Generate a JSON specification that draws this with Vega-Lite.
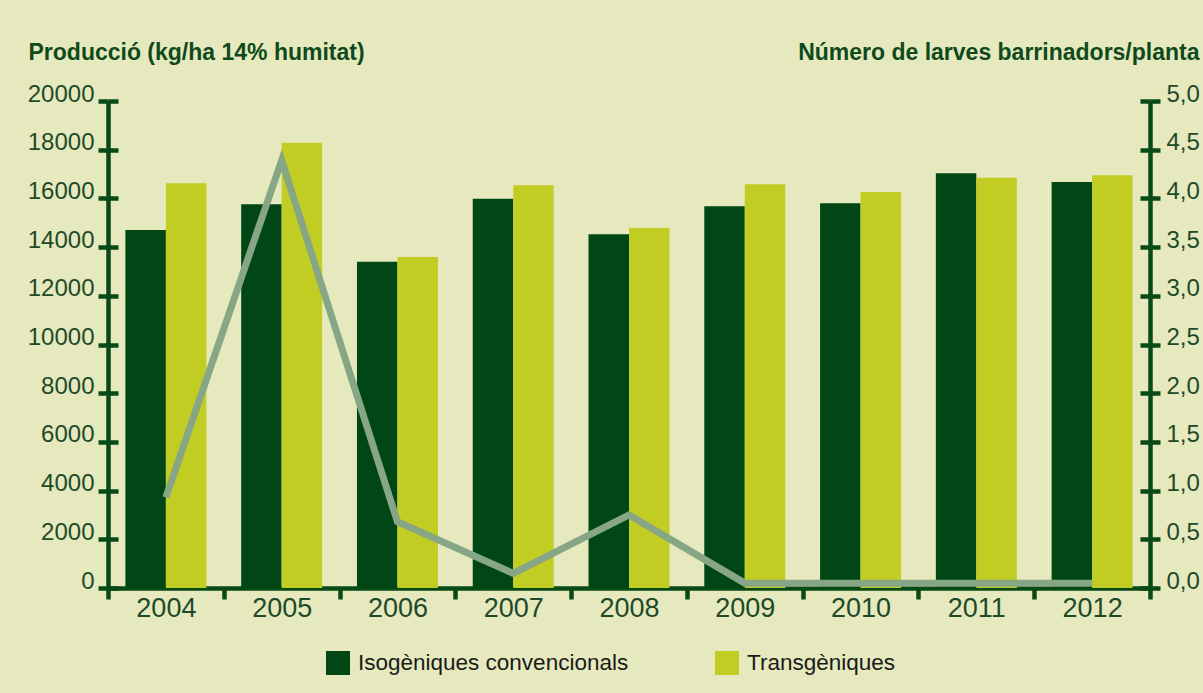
{
  "$schema": "https://vega.github.io/schema/vega-lite/v6.json",
  "width": 1042,
  "height": 487,
  "autosize": {"type": "none"},
  "padding": {"left": 108, "top": 101, "right": 53, "bottom": 105},
  "background": "#e6e9bd",
  "config": {
    "view": {"stroke": null},
    "font": "Liberation Sans"
  },
  "datasets": {
    "prod": [
      {"year": "2004", "tipus": "Isogèniques convencionals", "kg": 14700},
      {"year": "2004", "tipus": "Transgèniques", "kg": 16620},
      {"year": "2005", "tipus": "Isogèniques convencionals", "kg": 15760},
      {"year": "2005", "tipus": "Transgèniques", "kg": 18290},
      {"year": "2006", "tipus": "Isogèniques convencionals", "kg": 13400},
      {"year": "2006", "tipus": "Transgèniques", "kg": 13590},
      {"year": "2007", "tipus": "Isogèniques convencionals", "kg": 15990},
      {"year": "2007", "tipus": "Transgèniques", "kg": 16540},
      {"year": "2008", "tipus": "Isogèniques convencionals", "kg": 14530},
      {"year": "2008", "tipus": "Transgèniques", "kg": 14780},
      {"year": "2009", "tipus": "Isogèniques convencionals", "kg": 15680},
      {"year": "2009", "tipus": "Transgèniques", "kg": 16580},
      {"year": "2010", "tipus": "Isogèniques convencionals", "kg": 15800},
      {"year": "2010", "tipus": "Transgèniques", "kg": 16260},
      {"year": "2011", "tipus": "Isogèniques convencionals", "kg": 17030},
      {"year": "2011", "tipus": "Transgèniques", "kg": 16850},
      {"year": "2012", "tipus": "Isogèniques convencionals", "kg": 16670},
      {"year": "2012", "tipus": "Transgèniques", "kg": 16950}
    ],
    "larves": [
      {"year": "2004", "larves": 0.93},
      {"year": "2005", "larves": 4.39},
      {"year": "2006", "larves": 0.68},
      {"year": "2007", "larves": 0.15},
      {"year": "2008", "larves": 0.75},
      {"year": "2009", "larves": 0.05},
      {"year": "2010", "larves": 0.05},
      {"year": "2011", "larves": 0.05},
      {"year": "2012", "larves": 0.05}
    ]
  },
  "layer": [
    {
      "data": {"name": "prod"},
      "mark": {"type": "bar"},
      "encoding": {
        "x": {
          "field": "year", "type": "nominal",
          "scale": {"paddingInner": 0, "paddingOuter": 0},
          "axis": {
            "title": null,
            "labelAngle": 0,
            "labelFont": "Liberation Sans",
            "labelFontSize": 27,
            "labelColor": "#1e4a2a",
            "labelBaseline": "alphabetic",
            "labelPadding": 17,
            "tickBand": "extent",
            "tickSize": 11,
            "tickWidth": 4.5,
            "tickColor": "#074a16",
            "domainColor": "#074a16",
            "domainWidth": 4.5,
            "grid": false
          }
        },
        "xOffset": {
          "field": "tipus", "type": "nominal",
          "scale": {"paddingInner": 0, "paddingOuter": 0.43}
        },
        "y": {
          "field": "kg", "type": "quantitative",
          "scale": {"domain": [0, 20000], "nice": false},
          "axis": {
            "orient": "left",
            "values": [0, 2000, 4000, 6000, 8000, 10000, 12000, 14000, 16000, 18000, 20000],
            "format": "d",
            "title": "Producció (kg/ha 14% humitat)",
            "titleAngle": 0,
            "titleAlign": "left",
            "titleBaseline": "alphabetic",
            "titleX": -80,
            "titleY": -42,
            "titleFont": "Liberation Sans",
            "titleFontSize": 23,
            "titleFontWeight": "bold",
            "titleColor": "#0f4a1c",
            "labelFont": "Liberation Sans",
            "labelFontSize": 24,
            "labelColor": "#1e4a2a",
            "labelBaseline": "alphabetic",
            "labelPadding": 4,
            "tickSize": 10,
            "tickWidth": 4.5,
            "tickColor": "#074a16",
            "domainColor": "#074a16",
            "domainWidth": 4.5,
            "grid": true,
            "gridColor": "#074a16",
            "gridWidth": 4.5,
            "gridDash": [10, 3000],
            "gridOpacity": 1
          }
        },
        "color": {
          "field": "tipus", "type": "nominal",
          "scale": {
            "domain": ["Isogèniques convencionals", "Transgèniques"],
            "range": ["#004715", "#c2cd23"]
          },
          "legend": {
            "title": null,
            "orient": "none",
            "legendX": 218,
            "legendY": 550,
            "direction": "horizontal",
            "symbolType": "square",
            "symbolSize": 576,
            "symbolStrokeWidth": 0,
            "symbolOpacity": 1,
            "labelFont": "Liberation Sans",
            "labelFontSize": 22.5,
            "labelLimit": 500,
            "labelColor": "#1a1a1a",
            "labelOffset": 8,
            "columnPadding": 86
          }
        }
      }
    },
    {
      "data": {"name": "larves"},
      "mark": {"type": "line", "color": "#87a686", "strokeWidth": 7, "strokeJoin": "miter", "strokeCap": "butt"},
      "encoding": {
        "x": {"field": "year", "type": "nominal"},
        "y": {
          "field": "larves", "type": "quantitative",
          "scale": {"domain": [0, 5], "nice": false},
          "axis": {
            "orient": "right",
            "values": [0, 0.5, 1, 1.5, 2, 2.5, 3, 3.5, 4, 4.5, 5],
            "labelExpr": "replace(format(datum.value, '.1f'), '.', ',')",
            "title": "Número de larves barrinadors/planta",
            "titleAngle": 0,
            "titleAlign": "right",
            "titleBaseline": "alphabetic",
            "titleX": 49,
            "titleY": -42,
            "titleFont": "Liberation Sans",
            "titleFontSize": 23,
            "titleFontWeight": "bold",
            "titleColor": "#0f4a1c",
            "labelFont": "Liberation Sans",
            "labelFontSize": 24,
            "labelColor": "#1e4a2a",
            "labelBaseline": "alphabetic",
            "labelPadding": 6,
            "tickSize": 10,
            "tickWidth": 4.5,
            "tickColor": "#074a16",
            "domainColor": "#074a16",
            "domainWidth": 4.5,
            "grid": true,
            "gridColor": "#074a16",
            "gridWidth": 4.5,
            "gridDash": [10, 3000],
            "gridOpacity": 1
          }
        }
      }
    }
  ],
  "resolve": {"scale": {"y": "independent"}, "axis": {"y": "independent"}}
}
